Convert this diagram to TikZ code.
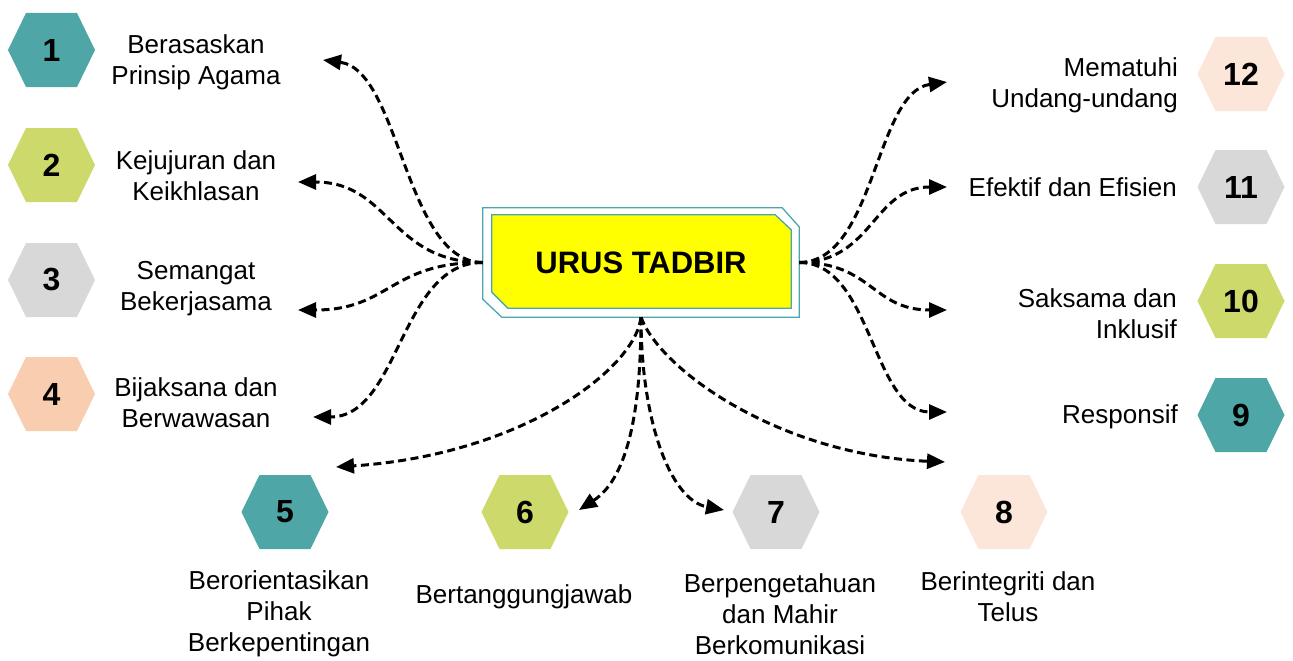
\documentclass[tikz,border=0pt]{standalone}
\usepackage{fontspec}
\setmainfont{Liberation Sans}
\usetikzlibrary{arrows.meta,calc}
\pgfdeclarelayer{background}
\pgfsetlayers{background,main}

\definecolor{hexteal}{HTML}{4EA6A6}
\definecolor{hexgreen}{HTML}{CDD96A}
\definecolor{hexgrey}{HTML}{D9D8D8}
\definecolor{hexpeach}{HTML}{F8CDB0}
\definecolor{hexpale}{HTML}{FBE6D9}
\definecolor{frameteal}{HTML}{4AA8AC}
\definecolor{titleyellow}{HTML}{FFFF00}

\tikzset{
  hexbox/.style={minimum width=87pt, minimum height=74pt, inner sep=0pt,
    font=\fontsize{32}{32}\selectfont\bfseries,
    path picture={\fill[#1]
      (path picture bounding box.west)
      -- ([xshift=18pt]path picture bounding box.north west)
      -- ([xshift=-18pt]path picture bounding box.north east)
      -- (path picture bounding box.east)
      -- ([xshift=-18pt]path picture bounding box.south east)
      -- ([xshift=18pt]path picture bounding box.south west) -- cycle;}},
  lbl/.style={font=\fontsize{26}{31}\selectfont, align=center, inner sep=0pt},
  rlbl/.style={font=\fontsize{26}{31}\selectfont, align=right, inner sep=0pt, anchor=east},
  titlebox/.style={minimum width=316pt, minimum height=109pt, inner sep=0pt,
    font=\fontsize{31}{31}\selectfont\bfseries},
  conn/.style={draw=black, line width=3pt, dash pattern=on 8pt off 4.5pt,
    -{Triangle[length=18pt,width=15pt]}},
}

\begin{document}
\begin{tikzpicture}[x=1pt,y=-1pt]
\useasboundingbox (0,0) rectangle (1293,661);

% central title box with chamfered double frame
\node[titlebox] (box) at (641,262.5) {URUS TADBIR};
\begin{pgfonlayer}{background}
  \draw[frameteal, line width=1.3pt, fill=white]
    (box.north west) -- ($(box.north east)+(-17,0)$) -- ($(box.north east)+(0,19)$)
    -- (box.south east) -- ($(box.south west)+(19,0)$) -- ($(box.south west)+(0,-18)$) -- cycle;
  \draw[frameteal, line width=1.3pt, fill=titleyellow]
    ($(box.north west)+(9,7)$) -- ($(box.north east)+(-24,7)$) -- ($(box.north east)+(-8,22)$)
    -- ($(box.south east)+(-8,-9)$) -- ($(box.south west)+(25,-9)$) -- ($(box.south west)+(9,-25)$) -- cycle;
\end{pgfonlayer}

% numbered hexagons
\node[hexbox=hexteal]  (h1)  at (51.5,50)  {1};
\node[hexbox=hexgreen] (h2)  at (51.5,165) {2};
\node[hexbox=hexgrey]  (h3)  at (51.5,280) {3};
\node[hexbox=hexpeach] (h4)  at (51.5,394) {4};
\node[hexbox=hexteal]  (h5)  at (285,512)  {5};
\node[hexbox=hexgreen] (h6)  at (525,512)  {6};
\node[hexbox=hexgrey]  (h7)  at (776,512)  {7};
\node[hexbox=hexpale]  (h8)  at (1004,512) {8};
\node[hexbox=hexteal]  (h9)  at (1241,415) {9};
\node[hexbox=hexgreen] (h10) at (1241,301) {10};
\node[hexbox=hexgrey]  (h11) at (1241,187) {11};
\node[hexbox=hexpale]  (h12) at (1241,74)  {12};

% labels
\node[lbl] (l1) at (196,62)  {Berasaskan\\Prinsip Agama};
\node[lbl] (l2) at (196,176) {Kejujuran dan\\Keikhlasan};
\node[lbl] (l3) at (196,289) {Semangat\\Bekerjasama};
\node[lbl] (l4) at (196,403) {Bijaksana dan\\Berwawasan};
\node[lbl] (l5) at (279,614) {Berorientasikan\\Pihak\\Berkepentingan};
\node[lbl] (l6) at (524,597) {Bertanggungjawab};
\node[lbl] (l7) at (780,614) {Berpengetahuan\\dan Mahir\\Berkomunikasi};
\node[lbl] (l8) at (1008,597) {Berintegriti dan\\Telus};
\node[rlbl] (l12) at (1178,85)  {Mematuhi\\Undang-undang};
\node[rlbl] (l11) at (1177,187) {Efektif dan Efisien};
\node[rlbl] (l10) at (1177,314) {Saksama dan\\Inklusif};
\node[rlbl] (l9)  at (1178,417) {Responsif};

% arrow tips
\coordinate (t1) at (323,60);
\coordinate (t2) at (298,182);
\coordinate (t3) at (298,310);
\coordinate (t4) at (313,417);
\coordinate (t5) at (336,467);
\coordinate (t6) at (579,510);
\coordinate (t7) at (724,510);
\coordinate (t8) at (945,462);
\coordinate (t9) at (947,412);
\coordinate (t10) at (947,310);
\coordinate (t11) at (947,187);
\coordinate (t12) at (947,82);

% connectors to the left
\draw[conn] (box.west) .. controls (405,262) and (400,70) .. (t1);
\draw[conn] (box.west) .. controls (390,262) and (390,182) .. (t2);
\draw[conn] (box.west) .. controls (390,262) and (390,310) .. (t3);
\draw[conn] (box.west) .. controls (400,262) and (400,417) .. (t4);
% connectors downwards
\draw[conn] (box.south) .. controls (635,370) and (520,455) .. (t5);
\draw[conn] (box.south) .. controls (641,420) and (625,480) .. (t6);
\draw[conn] (box.south) .. controls (641,420) and (670,500) .. (t7);
\draw[conn] (box.south) .. controls (660,370) and (780,455) .. (t8);
% connectors to the right
\draw[conn] (box.east) .. controls (872,262) and (872,412) .. (t9);
\draw[conn] (box.east) .. controls (872,262) and (872,310) .. (t10);
\draw[conn] (box.east) .. controls (873,262) and (873,187) .. (t11);
\draw[conn] (box.east) .. controls (875,262) and (875,92) .. (t12);
\end{tikzpicture}
\end{document}
